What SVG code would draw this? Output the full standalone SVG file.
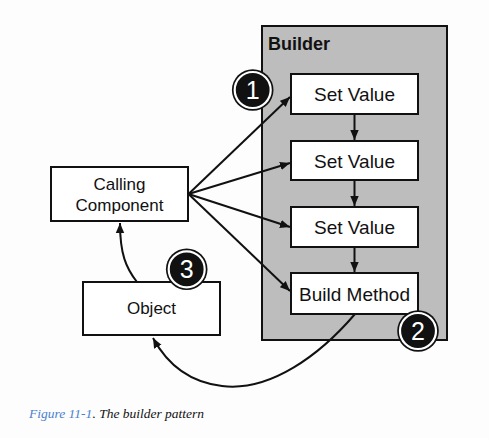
<svg xmlns="http://www.w3.org/2000/svg" width="489" height="438" viewBox="0 0 489 438">
<defs>
<style>
.box{fill:#fff;stroke:#111;stroke-width:2}
.lbl{font-family:"Liberation Sans",Arial,sans-serif;font-size:19px;fill:#111;text-anchor:middle}
.lbl17{font-family:"Liberation Sans",Arial,sans-serif;font-size:17px;fill:#111;text-anchor:middle}
.conn{fill:none;stroke:#111;stroke-width:2}
.num{font-family:"Liberation Sans",Arial,sans-serif;font-size:25px;fill:#fff;text-anchor:middle}
.badge-o{fill:#111}
.badge-i{fill:#111;stroke:#fff;stroke-width:2.2}
</style>
<marker id="arr" viewBox="0 0 10 10" refX="10" refY="5" markerWidth="10" markerHeight="10" markerUnits="userSpaceOnUse" orient="auto">
<path d="M0,0.8 L10,5 L0,9.2 Z" fill="#111"/>
</marker>
</defs>
<rect width="489" height="438" fill="#fdfdfd"/>

<g id="builder">
<rect x="262" y="26" width="185" height="314" fill="#bdbdbd" stroke="#111" stroke-width="2"/>
<text x="268" y="50" font-family="'Liberation Sans',Arial,sans-serif" font-size="18" font-weight="bold" fill="#111">Builder</text>
</g>

<g id="set-value-1">
<rect class="box" x="291" y="74" width="127" height="40"/>
<text class="lbl" x="354.5" y="101">Set Value</text>
</g>
<g id="set-value-2">
<rect class="box" x="291" y="141" width="127" height="39"/>
<text class="lbl" x="354.5" y="167.5">Set Value</text>
</g>
<g id="set-value-3">
<rect class="box" x="291" y="207" width="127" height="40"/>
<text class="lbl" x="354.5" y="233.5">Set Value</text>
</g>
<g id="build-method">
<rect class="box" x="291" y="273" width="127" height="41"/>
<text class="lbl" x="354.5" y="300.5">Build Method</text>
</g>

<g id="calling-component">
<rect class="box" x="51" y="167" width="137" height="54"/>
<text class="lbl17" x="119.5" y="190">Calling</text>
<text class="lbl17" x="119.5" y="210.5">Component</text>
</g>

<g id="object">
<rect class="box" x="83" y="282" width="137" height="53"/>
<text class="lbl17" x="151.5" y="314">Object</text>
</g>

<g id="connectors">
<line class="conn" x1="188.5" y1="194" x2="290" y2="97" marker-end="url(#arr)"/>
<line class="conn" x1="188.5" y1="194" x2="290" y2="163" marker-end="url(#arr)"/>
<line class="conn" x1="188.5" y1="194" x2="290" y2="227" marker-end="url(#arr)"/>
<line class="conn" x1="188.5" y1="194" x2="290" y2="291" marker-end="url(#arr)"/>
<line class="conn" x1="354.5" y1="114" x2="354.5" y2="140" marker-end="url(#arr)"/>
<line class="conn" x1="354.5" y1="180" x2="354.5" y2="206" marker-end="url(#arr)"/>
<line class="conn" x1="354.5" y1="247" x2="354.5" y2="272" marker-end="url(#arr)"/>
<path class="conn" d="M137,282 C126,268 120,254 120,223" marker-end="url(#arr)"/>
<path class="conn" d="M355,314 C320,355 270,392 222,386 C188,382 166,362 153,338" marker-end="url(#arr)"/>
</g>

<g id="badge-1">
<circle class="badge-o" cx="252.7" cy="90" r="20.8"/>
<circle class="badge-i" cx="252.7" cy="90" r="18"/>
<text class="num" x="252.7" y="99">1</text>
</g>
<g id="badge-2">
<circle class="badge-o" cx="418" cy="331" r="20.8"/>
<circle class="badge-i" cx="418" cy="331" r="18"/>
<text class="num" x="418" y="340">2</text>
</g>
<g id="badge-3">
<circle class="badge-o" cx="186.7" cy="269.3" r="20.8"/>
<circle class="badge-i" cx="186.7" cy="269.3" r="18"/>
<text class="num" x="186.7" y="278.3">3</text>
</g>

<g id="caption">
<text x="29" y="418" font-family="'Liberation Serif','Times New Roman',serif" font-style="italic" font-size="13.5" fill="#111"><tspan fill="#4a7fd0">Figure 11-1</tspan>. The builder pattern</text>
</g>
</svg>
